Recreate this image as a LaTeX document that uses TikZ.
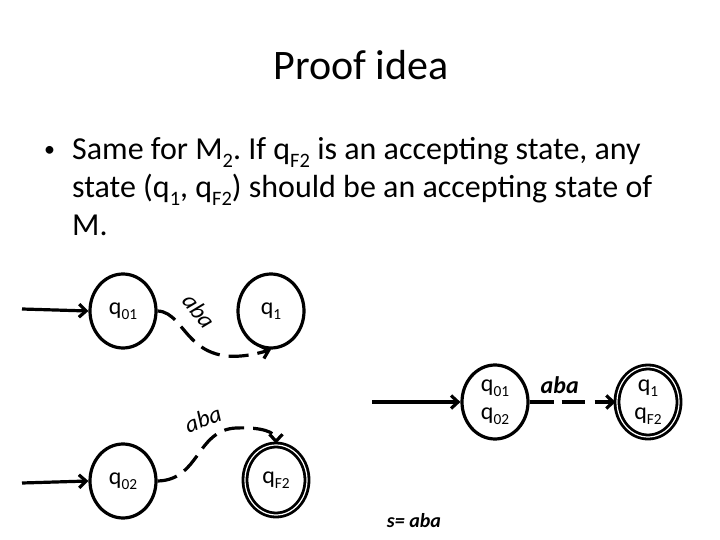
\documentclass[tikz,border=0pt]{standalone}
\usepackage{fontspec}
\setmainfont{Carlito}
\usetikzlibrary{shapes.geometric,arrows.meta}
\newcommand{\sbs}[1]{\raisebox{-0.22em}{\scalebox{0.64}{#1}}}
\frenchspacing
\begin{document}
\begin{tikzpicture}[x=1pt,y=-1pt,
  st/.style={draw,ellipse,line width=3.2pt,minimum width=66pt,minimum height=74pt,inner sep=0pt,font=\fontsize{24}{26}\selectfont},
  acc/.style={st,double,double distance=1.2pt,line width=2.8pt,minimum width=62pt,minimum height=70pt},
  initarr/.style={line width=3.2pt,-{Straight Barb[length=7pt,width=13pt,line width=3.2pt]}},
  darr/.style={line width=3.2pt,dash pattern=on 20pt off 9pt,-{Straight Barb[length=7pt,width=13pt,line width=3.2pt]}},
  body/.style={anchor=base west,inner sep=0pt,font=\fontsize{32}{38}\selectfont}
]
\useasboundingbox (0,0) rectangle (720,540);
% title
\node[font=\fontsize{42}{48}\selectfont,anchor=base] (title) at (361,80) {Proof idea};
% bullet text
\node[body,font=\fontsize{22}{26}\selectfont] (bul) at (44,157) {\textbullet};
\node[body] (l1) at (72,160) {Same for M\sbs{2}. If q\sbs{F2} is an accepting state, any};
\node[body] (l2) at (72,198) {state (q\sbs{1}, q\sbs{F2}) should be an accepting state of};
\node[body] (l3) at (72,236) {M.};
% M1 part
\node[st] (q01) at (123,311) {q\sbs{01}};
\node[st] (q1) at (271,311) {q\sbs{1}};
\coordinate (s1) at (22,309);
\draw[initarr] (s1) -- (q01.west);
\draw[darr] (q01.east) .. controls (188,312) and (186,375) .. (q1.south);
\node[font=\itshape\fontsize{24}{26}\selectfont,rotate=-52] (lab1) at (199,311) {aba};
% M2 part
\node[st] (q02) at (123,481) {q\sbs{02}};
\node[acc] (qF2) at (276,480) {q\sbs{F2}};
\coordinate (s2) at (22,483);
\draw[initarr] (s2) -- (q02.west);
\draw[darr] (q02.east) .. controls (200,480) and (196,430) .. (236,428) .. controls (262,427) and (276,432) .. (qF2.north);
\node[font=\itshape\fontsize{24}{26}\selectfont,rotate=20] (lab2) at (203,419) {aba};
% product
\node[st,align=center,font=\fontsize{24}{30}\selectfont] (p0) at (495,402) {q\sbs{01}\\[-2pt]q\sbs{02}};
\node[acc,align=center,font=\fontsize{24}{30}\selectfont] (pF) at (648,402) {q\sbs{1}\\[-2pt]q\sbs{F2}};
\coordinate (s3) at (372,402);
\draw[initarr] (s3) -- (p0.west);
\draw[darr,dash pattern=on 24pt off 8pt on 23pt off 10pt] (p0.east) -- node[pos=0.35,above=3pt,font=\bfseries\itshape\fontsize{24}{26}\selectfont] (lab3) {aba} (pF.west);
\node[font=\bfseries\itshape\fontsize{20}{24}\selectfont] (s) at (414,521) {s= aba};
\end{tikzpicture}
\end{document}
